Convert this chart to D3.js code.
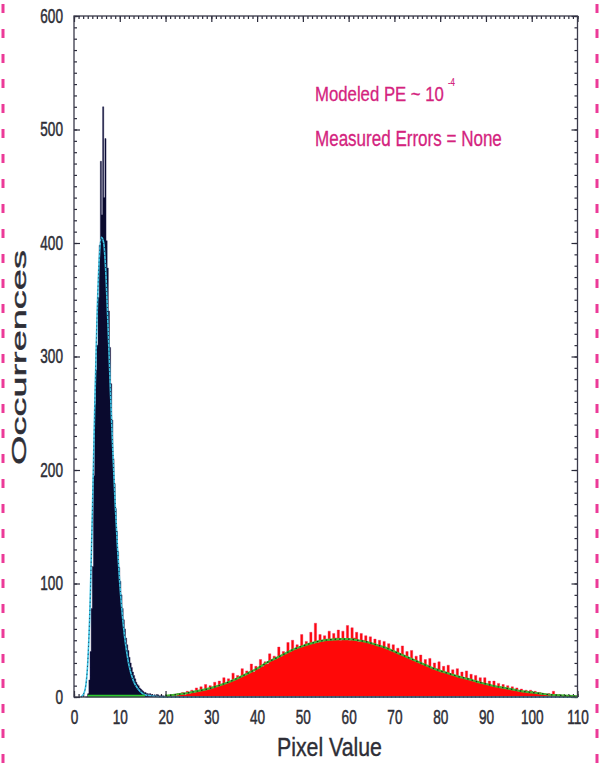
<!DOCTYPE html>
<html>
<head>
<meta charset="utf-8">
<script src="https://cdn.jsdelivr.net/npm/d3@7/dist/d3.min.js"></script>
<style>
  html, body { margin: 0; padding: 0; background: #ffffff; }
  svg { display: block; }
  text { font-family: "Liberation Sans", Arial, Helvetica, sans-serif; }
</style>
</head>
<body>
<svg id="chart" width="599" height="765"></svg>
<script>
// ---------------- DATA ----------------
// Low-intensity (black) histogram: bins of 0.25 starting at 2.5
const blackStart = 2.5;
const blackStep = 0.25;
const blackCounts = [
  0, 0, 3, 15, 40, 78, 115, 195, 258, 288,
  310, 352, 398, 472, 425, 520, 440, 492, 402, 378,
  340, 308, 276, 244, 210, 188, 166, 146, 128, 114,
  102, 90, 78, 68, 60, 52, 46, 41, 35, 30,
  26, 22, 19, 16, 13, 11, 10, 8, 7, 6,
  5, 4, 4, 3, 3, 2, 3, 2, 2, 1,
  2, 1, 1, 2, 1, 1, 1, 1, 1, 0, 1
];

// High-intensity (red) histogram: bins of 0.5 starting at 20
const redStart = 20;
const redStep = 0.5;
const redCounts = [
  0, 1, 0, 2, 1, 3, 2, 4, 2, 5,
  3, 6, 4, 8, 5, 9, 6, 11, 7, 10,
  8, 13, 9, 14, 11, 17, 12, 16, 14, 21,
  15, 19, 17, 25, 19, 23, 21, 29, 22, 27,
  25, 33, 27, 31, 29, 38, 32, 36, 34, 44,
  36, 40, 38, 48, 40, 50, 42, 46, 44, 55,
  45, 49, 46, 57, 47, 65, 48, 55, 49, 54,
  50, 58, 50, 56, 52, 59, 50, 58, 51, 63,
  50, 61, 52, 57, 49, 56, 50, 54, 48, 53,
  47, 51, 46, 50, 44, 49, 43, 47, 41, 46,
  40, 43, 38, 45, 36, 40, 34, 41, 33, 36,
  31, 37, 29, 33, 28, 34, 26, 30, 25, 31,
  23, 27, 22, 28, 20, 24, 19, 25, 18, 22,
  17, 23, 16, 20, 14, 19, 13, 17, 12, 17,
  11, 14, 10, 14, 9, 12, 8, 11, 8, 10,
  7, 9, 6, 8, 5, 7, 5, 6, 4, 6,
  4, 5, 3, 4, 3, 3, 2, 3, 2, 5,
  1, 2, 1, 1, 0
];

// Model fit for the black peak (cyan)
const blackFitX = [1.5, 2, 2.5, 3, 3.5, 4, 4.5, 5, 5.5, 6, 6.5, 7, 7.5, 8, 8.5, 9, 9.5, 10, 10.5, 11, 11.5, 12, 13, 14, 15, 16, 18, 20, 30, 50, 80, 110];
const blackFitY = [0, 2, 8, 30, 80, 160, 250, 330, 385, 405, 400, 370, 320, 265, 215, 170, 132, 100, 75, 55, 40, 28, 14, 7, 3, 1.5, 0.5, 0, 0, 0, 0, 0];

// Model fit for the red distribution (green)
const redFitX = [20, 22, 24, 26, 28, 30, 32, 34, 36, 38, 40, 42, 44, 46, 48, 50, 52, 54, 56, 58, 60, 62, 64, 66, 68, 70, 72, 74, 76, 78, 80, 82, 84, 86, 88, 90, 92, 94, 96, 98, 100, 102, 104, 106, 108, 110];
const redFitY = [1, 2, 3, 4.5, 6, 8, 10.5, 13.5, 17, 21, 25, 30, 34, 38, 42, 45, 47.5, 49.5, 50.5, 51, 51, 50, 48.5, 46, 43.5, 40, 36.5, 33, 29.5, 26, 23, 20.5, 18, 16, 13.5, 11.5, 9.5, 8, 6.5, 5, 4, 3, 2, 1.5, 1, 0.5];

const xTicks = [0, 10, 20, 30, 40, 50, 60, 70, 80, 90, 100, 110];
const yTicks = [0, 100, 200, 300, 400, 500, 600];
const xLabel = "Pixel Value";
const yLabel = "Occurrences";
const note1 = "Modeled PE ~ 10";
const note1Exp = "-4";
const note2 = "Measured Errors = None";

// ---------------- CHART ----------------
const svg = d3.select("#chart");
const L = 74, R = 577.5, T = 16, B = 697;
const x = d3.scaleLinear().domain([0, 110]).range([L, R]);
const y = d3.scaleLinear().domain([0, 600]).range([B, T]);
const textColor = "#2e2e36";
const SX = 0.68;

// dashed magenta side borders
[3, 597].forEach(px => {
  svg.append("line")
    .attr("x1", px).attr("x2", px).attr("y1", 0).attr("y2", 765)
    .attr("stroke", "#ec3a98").attr("stroke-width", 3)
    .attr("stroke-dasharray", "9,16").attr("stroke-dashoffset", -4);
});

// ---- axes (ticks first) ----
function condense(sel) {
  sel.selectAll("text").each(function() {
    const t = d3.select(this);
    const xx = +t.attr("x") || 0;
    const yy = +t.attr("y") || 0;
    t.attr("x", 0).attr("y", 0)
     .attr("transform", `translate(${xx},${yy}) scale(${SX},1)`);
  });
}

const range = (a, b, s) => d3.range(a, b + s / 2, s);

const gBottomMinor = svg.append("g").attr("transform", `translate(0,${B})`)
  .call(d3.axisBottom(x).tickValues(range(0, 110, 1)).tickSize(-3).tickFormat(""));
const gBottom = svg.append("g").attr("transform", `translate(0,${B})`)
  .call(d3.axisBottom(x).tickValues(xTicks).tickSize(-6).tickPadding(13).tickFormat(d3.format("d")));
const gTopMinor = svg.append("g").attr("transform", `translate(0,${T})`)
  .call(d3.axisTop(x).tickValues(range(0, 110, 1)).tickSize(-3).tickFormat(""));
const gTop = svg.append("g").attr("transform", `translate(0,${T})`)
  .call(d3.axisTop(x).tickValues(xTicks).tickSize(-6).tickFormat(""));
const gLeftMinor = svg.append("g").attr("transform", `translate(${L},0)`)
  .call(d3.axisLeft(y).tickValues(range(0, 600, 10)).tickSize(-3).tickFormat(""));
const gLeft = svg.append("g").attr("transform", `translate(${L},0)`)
  .call(d3.axisLeft(y).tickValues(yTicks).tickSize(-6).tickPadding(11).tickFormat(d3.format("d")));
const gRightMinor = svg.append("g").attr("transform", `translate(${R},0)`)
  .call(d3.axisRight(y).tickValues(range(0, 600, 10)).tickSize(-3).tickFormat(""));
const gRight = svg.append("g").attr("transform", `translate(${R},0)`)
  .call(d3.axisRight(y).tickValues(yTicks).tickSize(-6).tickFormat(""));

[gBottomMinor, gBottom, gTopMinor, gTop, gLeftMinor, gLeft, gRightMinor, gRight].forEach(g => {
  g.select(".domain").remove();
  g.selectAll(".tick line").attr("stroke", "#2a2a3a").attr("stroke-width", 1.2);
  g.selectAll("text").attr("fill", textColor).attr("font-size", 20)
    .attr("stroke", textColor).attr("stroke-width", 0.5)
    .attr("font-family", "'Liberation Sans', Arial, sans-serif");
});
condense(gBottom);
condense(gLeft);

// ---- histograms as step areas ----
function stepPoints(start, step, counts) {
  const pts = counts.map((v, i) => [start + i * step, v]);
  pts.push([start + counts.length * step, counts[counts.length - 1]]);
  return pts;
}
const areaGen = d3.area().x(d => x(d[0])).y0(B).y1(d => y(d[1])).curve(d3.curveStepAfter);

svg.append("path").attr("d", areaGen(stepPoints(redStart, redStep, redCounts)))
  .attr("fill", "#ff0808").attr("stroke", "#f0205a").attr("stroke-width", 0.4);

svg.append("path").attr("d", areaGen(stepPoints(blackStart, blackStep, blackCounts)))
  .attr("fill", "#0a0a2e").attr("stroke", "#14144a").attr("stroke-width", 0.4);

// ---- fit curves ----
const lineGen = d3.line().x(d => x(d[0])).y(d => y(d[1])).curve(d3.curveMonotoneX);
const bfit = blackFitX.map((v, i) => [v, blackFitY[i]]);
const rfit = redFitX.map((v, i) => [v, redFitY[i]]);

svg.append("path").attr("d", lineGen(bfit)).attr("fill", "none")
  .attr("stroke", "#3cc4e6").attr("stroke-width", 1.6);
svg.append("path").attr("d", lineGen(bfit)).attr("fill", "none")
  .attr("stroke", "#14324a").attr("stroke-width", 1).attr("stroke-dasharray", "1,3");

svg.append("line").attr("x1", x(3)).attr("x2", x(15.5)).attr("y1", B - 1).attr("y2", B - 1)
  .attr("stroke", "#2ecc2e").attr("stroke-width", 2.5);

svg.append("path").attr("d", lineGen(rfit)).attr("fill", "none")
  .attr("stroke", "#44b832").attr("stroke-width", 2.2);
svg.append("path").attr("d", lineGen(rfit)).attr("fill", "none")
  .attr("stroke", "#1c2a1c").attr("stroke-width", 1.2).attr("stroke-dasharray", "1.5,3");

// ---- frame ----
svg.append("rect").attr("x", L).attr("y", T).attr("width", R - L).attr("height", B - T)
  .attr("fill", "none").attr("stroke", "#3a3a4a").attr("stroke-width", 1.3);

// ---- text helper: scale horizontally so the text spans a given length ----
function fitText(tx, ty, rot, size, target, color, sw, str) {
  const t = svg.append("text")
    .attr("font-size", size).attr("fill", color)
    .attr("stroke", color).attr("stroke-width", sw)
    .text(str);
  const len = t.node().getComputedTextLength();
  const s = target / len;
  t.attr("transform", `translate(${tx},${ty}) rotate(${rot}) scale(${s},1)`);
  return t;
}

fitText(277, 756, 0, 26, 105, textColor, 0.4, xLabel);
fitText(26, 465, -90, 20, 215, textColor, 0.4, yLabel);

const noteColor = "#d4237e";
fitText(315, 101, 0, 21, 129, noteColor, 0.3, note1);
fitText(448, 86, 0, 10, 7, noteColor, 0.2, note1Exp);
fitText(315, 146, 0, 22, 187, noteColor, 0.3, note2);
</script>
</body>
</html>
